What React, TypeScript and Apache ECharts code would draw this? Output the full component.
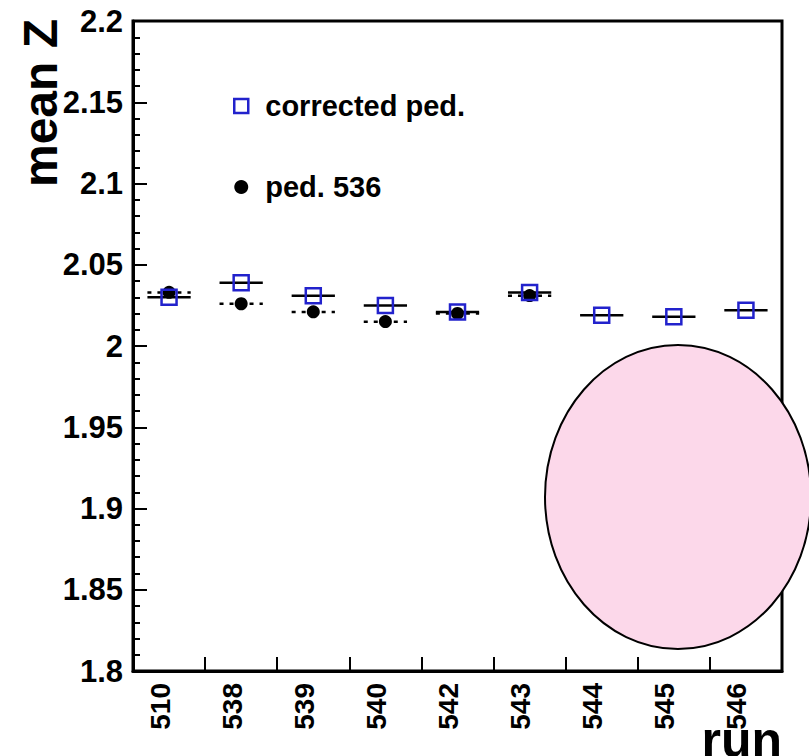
import React, { useEffect, useRef } from "react";
import * as echarts from "echarts";

// Run numbers on the x axis
const runs = ["510", "538", "539", "540", "542", "543", "544", "545", "546"];
// Mean Z with the corrected pedestal, one value per run
const correctedPed = [2.030, 2.039, 2.031, 2.025, 2.021, 2.033, 2.019, 2.018, 2.022];
// Mean Z with the pedestal of run 536 (first six runs only)
const ped536 = [2.033, 2.026, 2.021, 2.015, 2.020, 2.031];

const BLUE = "#2222cc";
const FONT = "Liberation Sans";

// Horizontal bin-width bars drawn behind each marker
function binBars(dashed: boolean) {
  return (params: any, api: any) => {
    const idx = api.value(0);
    const val = api.value(1);
    const c = api.coord([idx, val]);
    const half = api.size([1, 0])[0] * 0.3;
    return {
      type: "line",
      shape: { x1: c[0] - half, y1: c[1], x2: c[0] + half, y2: c[1] },
      style: {
        stroke: "#000",
        lineWidth: 2.5,
        lineDash: dashed ? [4, 6] : null,
      },
    };
  };
}

export default function App() {
  const ref = useRef<HTMLDivElement>(null);

  useEffect(() => {
    if (!ref.current) return;
    const chart = echarts.init(ref.current, null, { renderer: "svg" });

    const blueData = correctedPed.map((v, i) => [i, v]);
    const blackData = ped536.map((v, i) => [i, v]);

    chart.setOption({
      animation: false,
      backgroundColor: "#fff",
      grid: {
        left: 133,
        top: 21,
        right: 27,
        bottom: 85,
        show: true,
        borderColor: "#000",
        borderWidth: 3,
        backgroundColor: "transparent",
      },
      legend: {
        orient: "vertical",
        left: 228,
        top: 86,
        itemGap: 51,
        itemWidth: 14,
        itemHeight: 14,
        textStyle: {
          fontFamily: FONT,
          fontWeight: "bold",
          fontSize: 29,
          color: "#000",
          lineHeight: 30,
          padding: [0, 0, 0, 12],
        },
        data: [
          {
            name: "corrected ped.",
            icon: "rect",
            itemStyle: { color: "#fff", borderColor: BLUE, borderWidth: 2.5 },
          },
          {
            name: "ped. 536",
            icon: "circle",
            itemStyle: { color: "#000", borderWidth: 0 },
          },
        ],
      },
      xAxis: {
        type: "category",
        data: runs,
        boundaryGap: true,
        axisLine: { show: true, lineStyle: { color: "#000", width: 3 } },
        axisTick: {
          show: true,
          inside: true,
          length: 14,
          lineStyle: { color: "#000", width: 2 },
        },
        axisLabel: {
          rotate: 90,
          margin: 12,
          fontFamily: FONT,
          fontWeight: "bold",
          fontSize: 28,
          color: "#000",
          verticalAlign: "bottom",
          lineHeight: 18,
        },
        splitLine: { show: false },
      },
      yAxis: {
        type: "value",
        min: 1.8,
        max: 2.2,
        interval: 0.05,
        axisLine: { show: true, lineStyle: { color: "#000", width: 3 } },
        axisTick: {
          show: true,
          inside: true,
          length: 14,
          lineStyle: { color: "#000", width: 2 },
        },
        minorTick: {
          show: true,
          splitNumber: 5,
          length: 7,
          lineStyle: { color: "#000", width: 2 },
        },
        axisLabel: {
          margin: 10,
          fontFamily: FONT,
          fontWeight: "bold",
          fontSize: 31,
          color: "#000",
        },
        splitLine: { show: false },
      },
      series: [
        {
          type: "custom",
          name: "bars-ped536",
          renderItem: binBars(true),
          data: blackData,
          z: 1,
        },
        {
          type: "custom",
          name: "bars-corrected",
          renderItem: binBars(false),
          data: blueData,
          z: 1,
        },
        {
          type: "scatter",
          name: "ped. 536",
          data: blackData,
          symbol: "circle",
          symbolSize: 13,
          itemStyle: { color: "#000", opacity: 1 },
          z: 3,
        },
        {
          type: "scatter",
          name: "corrected ped.",
          data: blueData,
          symbol: "rect",
          symbolSize: 15,
          itemStyle: {
            color: "transparent",
            borderColor: BLUE,
            borderWidth: 2.5,
            opacity: 1,
          },
          z: 4,
        },
      ],
      graphic: [
        {
          type: "text",
          x: 64,
          y: 103,
          rotation: Math.PI / 2,
          style: {
            text: "mean Z",
            fontFamily: FONT,
            fontWeight: "bold",
            fontSize: 48,
            fill: "#000",
            align: "center",
            verticalAlign: "bottom",
          },
        },
        {
          type: "text",
          x: 782,
          y: 765,
          style: {
            text: "run",
            fontFamily: FONT,
            fontWeight: "bold",
            fontSize: 50,
            fill: "#000",
            align: "right",
            verticalAlign: "bottom",
          },
        },
        {
          type: "ellipse",
          shape: { cx: 678, cy: 497, rx: 133, ry: 152 },
          style: { fill: "#fcd8ea", stroke: "#000", lineWidth: 2 },
          z: 100,
        },
      ],
    });

    return () => chart.dispose();
  }, []);

  return (
    <div
      ref={ref}
      style={{ position: "absolute", left: 0, top: 0, width: 809, height: 756 }}
    />
  );
}
